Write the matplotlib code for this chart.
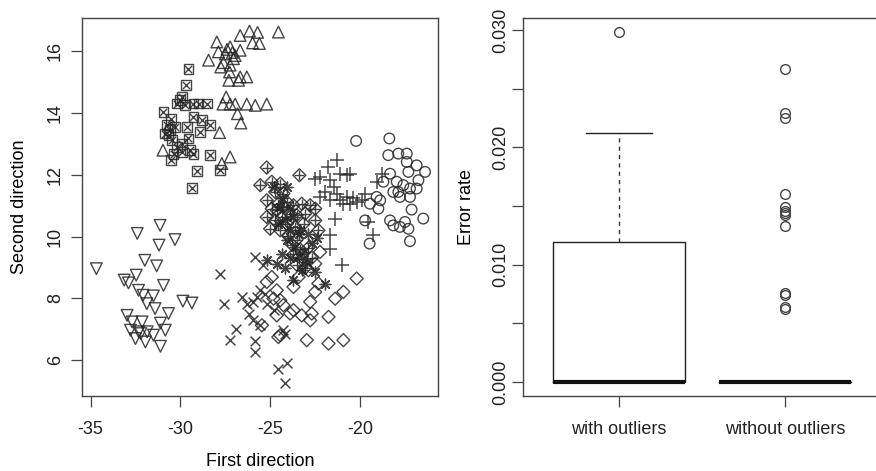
import numpy as np
import matplotlib.pyplot as plt

plt.rcParams['font.family'] = ['Liberation Sans', 'DejaVu Sans']

# left panel: projected points, one group per symbol
tri_up_x = [-24.54, -26.15, -25.7, -26.67, -25.6, -25.98, -27.97, -27.23, -27.5, -27.04, -27.88,
            -28.43, -26.67, -27.23, -27.75, -27.26, -27.3, -26.76, -26.3, -26.67, -27.45, -27.63,
            -27.23, -26.95, -26.3, -25.83, -25.19, -26.82, -26.63, -27.82, -27.23, -27.69, -30.97,
            -27.4, -27.1, -27.6, -26.95]
tri_up_y = [16.61, 16.64, 16.6, 16.5, 16.24, 16.26, 16.29, 16.13, 15.9, 15.75, 15.97,
            15.7, 16.02, 15.54, 15.48, 15.32, 15.05, 15.05, 15.16, 15.16, 14.51, 14.28,
            14.28, 14.28, 14.28, 14.24, 14.28, 13.97, 13.67, 13.36, 12.57, 12.36, 12.79,
            16.05, 15.95, 15.62, 15.85]

sq_x = [-29.55, -29.68, -30.0, -29.92, -30.19, -29.73, -29.27, -28.99, -28.52, -30.94, -30.53,
        -30.75, -30.57, -30.66, -30.47, -29.64, -29.27, -28.8, -28.34, -28.9, -29.55, -30.19,
        -29.92, -29.45, -29.27, -30.53, -28.34, -27.78, -29.08, -29.36, -30.38, -30.84, -30.29,
        -29.92]
sq_y = [15.41, 14.89, 14.41, 14.51, 14.3, 14.24, 14.3, 14.3, 14.3, 14.03, 13.81,
        13.6, 13.44, 13.27, 13.11, 13.54, 13.87, 13.76, 13.6, 13.38, 13.17, 12.9,
        12.74, 12.79, 12.68, 12.47, 12.63, 12.14, 12.12, 11.57, 12.68, 13.33, 13.54,
        13.0]

tri_dn_x = [-34.68, -32.4, -31.13, -30.3, -31.19, -31.98, -31.32, -30.94, -32.46, -33.13, -32.89,
            -32.33, -32.08, -31.5, -29.86, -29.36, -31.87, -31.41, -30.66, -32.97, -32.69, -32.13,
            -31.11, -30.84, -32.78, -32.32, -31.85, -32.5, -31.95, -31.5, -31.11, -32.2]
tri_dn_y = [8.96, 10.1, 10.36, 9.9, 9.72, 9.23, 9.05, 8.42, 8.75, 8.59, 8.5,
            8.26, 8.1, 8.08, 7.91, 7.85, 7.83, 7.67, 7.51, 7.45, 7.24, 7.24,
            7.2, 6.97, 6.97, 6.92, 6.92, 6.7, 6.59, 6.81, 6.45, 6.86]

cross_x = [-25.83, -25.37, -27.78, -27.56, -26.58, -26.3, -25.98, -25.74, -25.55, -25.28, -26.2,
           -25.93, -25.55, -26.89, -27.23, -25.83, -25.83, -24.54, -24.04, -24.17, -24.26, -24.81,
           -25.19, -24.17]
cross_y = [9.34, 9.07, 8.8, 7.81, 8.05, 7.83, 7.89, 8.05, 8.26, 8.15, 7.51,
           7.29, 7.13, 7.02, 6.65, 6.63, 6.27, 5.73, 5.91, 5.27, 6.97, 7.62,
           7.83, 6.86]

diam_x = [-25.19, -24.91, -24.63, -24.81, -24.44, -24.26, -24.63, -23.7, -23.89, -23.24, -22.77,
          -22.68, -22.77, -22.49, -22.31, -22.22, -22.49, -22.87, -21.75, -21.38, -20.92, -20.18,
          -22.96, -21.75, -20.92, -24.44, -24.54, -25.46, -23.7, -23.42]
diam_y = [8.53, 8.69, 8.26, 7.99, 7.94, 7.78, 7.45, 7.62, 7.51, 7.45, 7.29,
          7.51, 7.89, 8.21, 8.48, 9.5, 9.12, 8.91, 7.4, 7.99, 8.21, 8.64,
          6.65, 6.54, 6.65, 6.81, 6.75, 7.13, 8.37, 8.69]

dplus_x = [-25.19, -23.37, -25.55, -24.91, -24.44, -24.72, -24.26, -25.19, -24.91, -24.54, -24.07,
           -23.7, -23.24, -22.77, -22.49, -23.05, -23.52, -23.89, -24.35, -24.72, -25.19, -25.0,
           -24.44, -24.07, -23.61, -23.14, -22.49, -22.31, -23.98, -23.52, -23.79, -23.33, -22.87,
           -23.7, -23.24, -22.68, -23.52, -23.05, -24.26, -24.63]
dplus_y = [12.23, 11.98, 11.66, 11.77, 11.71, 11.44, 11.39, 11.17, 10.9, 11.06, 11.12,
           11.01, 11.06, 11.01, 10.9, 10.74, 10.69, 10.74, 10.63, 10.52, 10.63, 10.25,
           10.2, 10.41, 10.31, 10.41, 10.52, 10.2, 10.01, 9.9, 9.74, 9.58, 9.64,
           9.42, 9.26, 9.31, 9.09, 8.98, 10.96, 10.85]

star_x = [-24.35, -23.89, -24.17, -23.7, -24.54, -23.89, -23.42, -24.07, -23.61, -23.14, -23.42,
          -22.96, -23.89, -24.35, -24.63, -23.24, -23.7, -22.49, -21.93, -25.19, -24.17, -22.68,
          -22.4, -24.81, -24.07, -23.33, -22.87, -24.44]
star_y = [11.23, 10.9, 10.52, 10.63, 10.41, 10.2, 10.09, 9.88, 9.66, 9.5, 9.34,
          9.18, 9.29, 9.45, 9.12, 8.91, 8.59, 8.85, 8.48, 9.23, 8.99, 9.8,
          9.96, 11.61, 11.61, 10.2, 10.09, 10.96]

plus_x = [-21.29, -21.75, -22.22, -22.49, -21.66, -21.1, -20.73, -20.55, -21.47, -21.93, -22.22,
          -21.29, -21.66, -21.1, -20.73, -20.36, -20.18, -20.92, -20.55, -21.38, -21.66, -21.66,
          -21.01, -19.53, -19.25, -19.71, -19.07, -18.78, -19.9]
plus_y = [12.47, 12.25, 11.93, 11.87, 11.82, 12.03, 11.98, 12.03, 11.6, 11.44, 11.28,
          11.39, 11.17, 11.17, 11.28, 11.23, 11.12, 11.06, 11.06, 10.58, 10.04, 9.61,
          9.07, 10.47, 10.04, 11.39, 11.77, 12.03, 11.19]

circ_x = [-20.21, -18.36, -18.42, -17.86, -17.39, -17.39, -16.84, -16.37, -16.74, -17.3, -18.32,
          -17.95, -17.58, -17.21, -16.84, -18.14, -17.77, -17.21, -19.07, -18.87, -19.44, -18.97,
          -17.12, -16.47, -19.71, -18.32, -18.14, -17.77, -17.49, -17.3, -17.21, -19.46, -18.69,
          -17.86]
circ_y = [13.09, 13.17, 12.63, 12.68, 12.68, 12.41, 12.3, 12.09, 11.82, 12.09, 12.03,
          11.77, 11.66, 11.55, 11.55, 11.44, 11.28, 11.28, 11.28, 11.17, 11.06, 10.9,
          10.87, 10.58, 10.52, 10.52, 10.36, 10.31, 10.47, 10.25, 9.85, 9.77, 11.77,
          11.44]

# right panel: error rates
groups = ['with outliers', 'without outliers']
box_with = dict(q1=0.0, med=0.0, q3=0.0119, whislo=0.0, whishi=0.0212, fliers=[0.0298])
box_without = dict(q1=0.0, med=0.0, q3=0.0, whislo=0.0, whishi=0.0,
                   fliers=[0.0267, 0.0229, 0.0225, 0.0160, 0.0149, 0.0146, 0.0144, 0.0142,
                           0.0133, 0.0076, 0.0074, 0.0064, 0.0062])

ink = '#262626'
fig = plt.figure(figsize=(8.76, 4.71), dpi=100)
ax1 = fig.add_axes([0.0936, 0.159, 0.4064, 0.8025])
ax2 = fig.add_axes([0.597, 0.159, 0.4087, 0.8025])

kw = dict(s=70, linewidths=1.0, alpha=0.85)
ax1.scatter(tri_up_x, tri_up_y, marker='^', facecolors='none', edgecolors=ink, **kw)
ax1.scatter(sq_x, sq_y, marker='s', facecolors='none', edgecolors=ink, s=50, linewidths=1.0, alpha=0.85)
ax1.scatter(sq_x, sq_y, marker='x', color=ink, s=28, linewidths=1.0, alpha=0.85)
ax1.scatter(tri_dn_x, tri_dn_y, marker='v', facecolors='none', edgecolors=ink, **kw)
ax1.scatter(cross_x, cross_y, marker='x', color=ink, s=50, linewidths=1.1, alpha=0.85)
ax1.scatter(diam_x, diam_y, marker='D', facecolors='none', edgecolors=ink, s=44, linewidths=1.0, alpha=0.85)
ax1.scatter(dplus_x, dplus_y, marker='D', facecolors='none', edgecolors=ink, s=44, linewidths=1.0, alpha=0.85)
ax1.scatter(dplus_x, dplus_y, marker='+', color=ink, s=50, linewidths=1.0, alpha=0.85)
ax1.scatter(star_x, star_y, marker=(8, 2, 0), color=ink, s=60, linewidths=1.0, alpha=0.85)
ax1.scatter(plus_x, plus_y, marker='+', color=ink, s=100, linewidths=1.1, alpha=0.85)
ax1.scatter(circ_x, circ_y, marker='o', facecolors='none', edgecolors=ink, s=58, linewidths=1.0, alpha=0.85)

ax1.set_xlim(-35.48, -15.65)
ax1.set_ylim(4.84, 17.06)
ax1.set_xticks([-35, -30, -25, -20])
ax1.set_yticks([6, 8, 10, 12, 14, 16])
ax1.set_xticklabels(['-35', '-30', '-25', '-20'])
ax1.set_xlabel('First direction', fontsize=13, labelpad=10.5)
ax1.set_ylabel('Second direction', fontsize=13, labelpad=13.5)

stats = [box_with, box_without]
ax2.bxp(stats, positions=[1, 2], widths=0.8, showfliers=True,
        boxprops=dict(color='#222', lw=1),
        medianprops=dict(color='#111', lw=3, solid_capstyle='butt'),
        whiskerprops=dict(color='#333', lw=1, linestyle=(0, (3, 3))),
        capprops=dict(color='#222', lw=1),
        capwidths=0.4,
        flierprops=dict(marker='o', markerfacecolor='none', markeredgecolor='#444',
                        markersize=7, markeredgewidth=1))
ax2.set_xlim(0.42, 2.58)
ax2.set_ylim(-0.00119, 0.0310)
ax2.set_yticks(np.arange(0, 0.0301, 0.005))
ax2.set_yticklabels(['0.000', '', '0.010', '', '0.020', '', '0.030'])
ax2.set_xticks([1, 2])
ax2.set_xticklabels(groups)
ax2.set_ylabel('Error rate', fontsize=13, labelpad=12)

for ax in (ax1, ax2):
    for sp in ax.spines.values():
        sp.set_color('#444')
        sp.set_linewidth(1)
    ax.tick_params(length=8, width=0.9, color='#444', labelsize=13, labelcolor='#222')
    ax.tick_params(axis='x', pad=10)
    ax.tick_params(axis='y', labelrotation=90)
    for lab in ax.get_yticklabels():
        lab.set_va('center')
ax1.tick_params(axis='y', pad=5)
ax2.tick_params(axis='y', pad=2)

fig.savefig('out.png', dpi=100)
